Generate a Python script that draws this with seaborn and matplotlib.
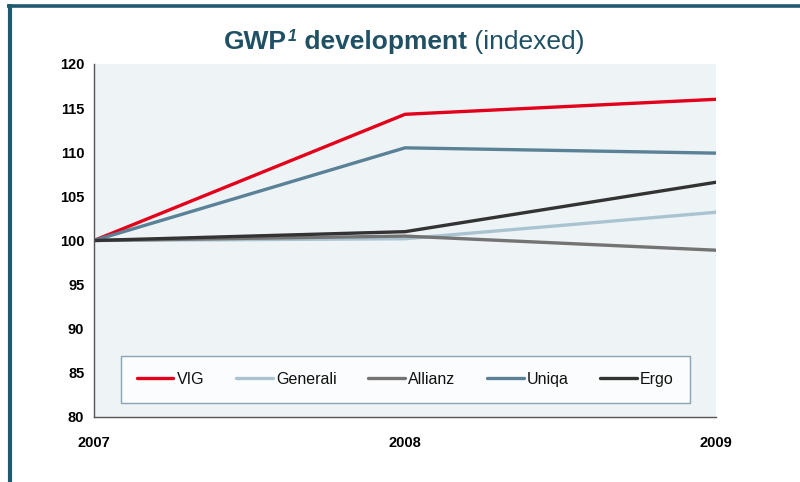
import matplotlib
matplotlib.use("Agg")
import matplotlib.pyplot as plt
import seaborn as sns
import pandas as pd
from matplotlib.lines import Line2D

years = ["2007", "2008", "2009"]
companies = ["VIG", "Generali", "Allianz", "Uniqa", "Ergo"]
vig = [100, 114.3, 116.0]
generali = [100, 100.2, 103.2]
allianz = [100, 100.5, 98.9]
uniqa = [100, 110.5, 109.9]
ergo = [100, 101.0, 106.6]
colors = ["#e2001a", "#a9c4d0", "#737373", "#5a8196", "#333333"]
yticks = [80, 85, 90, 95, 100, 105, 110, 115, 120]

series = [vig, generali, allianz, uniqa, ergo]
rows = []
for name, vals in zip(companies, series):
    for i, (yr, v) in enumerate(zip(years, vals)):
        rows.append({"x": i, "year": yr, "company": name, "value": v})
df = pd.DataFrame(rows)

sns.set_theme(style="white")
plt.rcParams["font.family"] = ["Liberation Sans", "DejaVu Sans"]

fig = plt.figure(figsize=(8, 4.82), dpi=100)
ax = fig.add_axes([94/800, 1-417/482, (716-94)/800, (417-64)/482])
ax.set_facecolor("#eef3f6")

sns.lineplot(data=df, x="x", y="value", hue="company", hue_order=companies,
             palette=colors, linewidth=2.4, ax=ax, legend=False, sort=False)

ax.set_xlim(0, 2)
ax.set_ylim(80, 120)
ax.set_xticks(range(len(years)))
ax.set_xticklabels(years)
ax.set_yticks(yticks)
ax.set_yticklabels([str(t) for t in yticks])
ax.set_xlabel("")
ax.set_ylabel("")
for lab in ax.get_xticklabels() + ax.get_yticklabels():
    lab.set_fontweight("bold")
    lab.set_fontsize(10.5)
    lab.set_color("#000000")
ax.tick_params(axis="both", direction="out", length=4, width=1, color="#555555")
ax.tick_params(axis="x", pad=10)
ax.tick_params(axis="y", pad=3)
for s in ["top", "right"]:
    ax.spines[s].set_visible(False)
for s in ["left", "bottom"]:
    ax.spines[s].set_color("#555555")
    ax.spines[s].set_linewidth(1)

handles = [Line2D([0], [0], color=c, lw=2.4) for c in colors]
leg = ax.legend(handles, companies, loc="center", ncol=5,
                bbox_to_anchor=(0.043, 0.025, 0.915, 0.162), mode="expand",
                fontsize=11.5, frameon=True, fancybox=False, handlelength=2.3,
                handletextpad=0.2, borderpad=1.0, borderaxespad=0)
leg.get_frame().set_edgecolor("#6f8fa0")
leg.get_frame().set_facecolor("white")
leg.get_frame().set_linewidth(1)
for t in leg.get_texts():
    t.set_color("#111111")

# border
fig.add_artist(Line2D([7/800, 1], [1-5.5/482, 1-5.5/482], color="#1f5a70", lw=2.6,
                      transform=fig.transFigure, solid_capstyle="butt"))
fig.add_artist(Line2D([9.5/800, 9.5/800], [1-4/482, 0], color="#1f5a70", lw=3.0,
                      transform=fig.transFigure, solid_capstyle="butt"))

# title in pieces
tcol = "#1f5064"
fig.canvas.draw()
r = fig.canvas.get_renderer()
base_y = 1 - 49/482
pieces = [("GWP", dict(fontsize=19, fontweight="bold"), 0),
          ("1", dict(fontsize=11.5, fontweight="bold", style="italic"), 8/482),
          (" development", dict(fontsize=19, fontweight="bold"), 0),
          (" (indexed)", dict(fontsize=19, fontweight="normal"), 0)]
texts = []
x = 0
for s, kw, dy in pieces:
    t = fig.text(x, base_y + dy, s, color=tcol, va="baseline", ha="left", **kw)
    w = t.get_window_extent(r).width / 800
    texts.append((t, x, w))
    x += w + (1.5/800 if s == "GWP" else 0)
total = x
start = 404/800 - total/2
for t, x0, w in texts:
    t.set_x(start + x0)

fig.savefig("out.png", dpi=100)
